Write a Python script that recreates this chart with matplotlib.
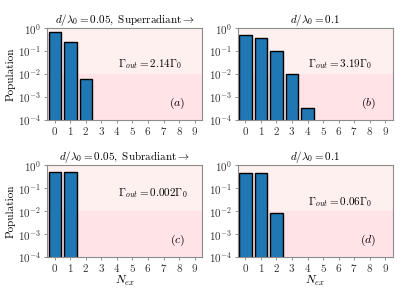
import matplotlib
matplotlib.use('Agg')
import matplotlib.pyplot as plt
import numpy as np

plt.rcParams['font.family'] = 'serif'
plt.rcParams['font.serif'] = ['cmr10', 'DejaVu Serif']
plt.rcParams['mathtext.fontset'] = 'cm'
plt.rcParams['axes.formatter.use_mathtext'] = True
plt.rcParams['font.size'] = 8

# Data
n_ex = np.arange(10)
pop_a = [0.70, 0.25, 0.0062]
pop_b = [0.49, 0.36, 0.10, 0.010, 3.3e-4]
pop_c = [0.4995, 0.4995]
pop_d = [0.47, 0.47, 0.008]

titles = [r'$d/\lambda_0 = 0.05,\ \mathrm{Superradiant} \rightarrow$',
          r'$d/\lambda_0 = 0.1$',
          r'$d/\lambda_0 = 0.05,\ \mathrm{Subradiant} \rightarrow$',
          r'$d/\lambda_0 = 0.1$']
gammas = [r'$\Gamma_{out} = 2.14\Gamma_0$', r'$\Gamma_{out} = 3.19\Gamma_0$',
          r'$\Gamma_{out} = 0.002\Gamma_0$', r'$\Gamma_{out} = 0.06\Gamma_0$']
panel_labels = [r'$(a)$', r'$(b)$', r'$(c)$', r'$(d)$']
gamma_y = [0.61, 0.61, 0.70, 0.60]

fig, axes = plt.subplots(2, 2, figsize=(4.07, 3.04), dpi=100)
fig.subplots_adjust(left=0.1155, right=0.9656, top=0.908, bottom=0.155,
                    wspace=0.226, hspace=0.50)

for i, (ax, pops) in enumerate(zip(axes.flat, [pop_a, pop_b, pop_c, pop_d])):
    ax.axhspan(1e-2, 1, color='#fff0f0', zorder=0)
    ax.axhspan(1e-4, 1e-2, color='#ffe3e6', zorder=0)
    ax.bar(n_ex[:len(pops)], pops, width=0.8, color='#1f77b4',
           edgecolor='black', linewidth=1.0, zorder=2)
    ax.set_yscale('log')
    ax.set_ylim(1e-4, 1)
    ax.set_xlim(-0.5, 9.5)
    ax.set_xticks(n_ex)
    ax.set_yticks([1e-4, 1e-3, 1e-2, 1e-1, 1])
    ax.yaxis.set_minor_locator(matplotlib.ticker.NullLocator())
    ax.tick_params(length=2, width=0.6, color='0.5', pad=2, labelsize=8,
                   labelcolor='0.2')
    for s in ax.spines.values():
        s.set_color('0.55')
        s.set_linewidth(0.8)
    ax.set_title(titles[i], fontsize=8, pad=2)
    ax.text(0.455, gamma_y[i], gammas[i], transform=ax.transAxes,
            ha='left', va='center', fontsize=8)
    ax.text(0.84, 0.175, panel_labels[i], transform=ax.transAxes,
            ha='center', va='center', fontsize=8.5)
    if i % 2 == 0:
        ax.set_ylabel('Population', labelpad=2, fontsize=8)
    if i >= 2:
        ax.set_xlabel(r'$N_{ex}$', labelpad=0, fontsize=8.5)

fig.savefig('out.png', dpi=100)
